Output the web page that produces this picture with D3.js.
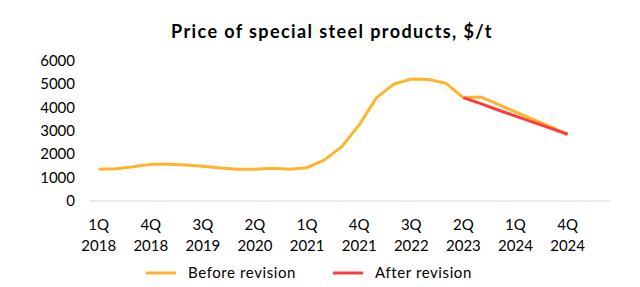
<!DOCTYPE html>
<html>
<head>
<meta charset="utf-8">
<script src="https://cdn.jsdelivr.net/npm/d3@7"></script>
<style>
  body { margin: 0; background: #fff; }
  text { font-family: "Lato", "DejaVu Sans", sans-serif; fill: #000; }
</style>
</head>
<body>
<div id="chart"></div>
<script>
// quarters 1Q2018 .. 4Q2024
const quarters = [];
for (let yr = 2018; yr <= 2024; yr++) {
  for (let q = 1; q <= 4; q++) quarters.push(q + "Q " + yr);
}
const beforeRevision = [
  1360, 1385, 1470, 1570, 1570, 1545, 1485, 1415, 1360, 1360,
  1400, 1360, 1430, 1760, 2330, 3260, 4430, 5010, 5230, 5210,
  5040, 4430, 4460, 4140, 3820, 3500, 3190, 2860
];
// after revision starts at 2Q 2023
const afterRevision = [4430, 4170, 3900, 3640, 3380, 3120, 2860];
const afterStart = 21;
const yTicks = [0, 1000, 2000, 3000, 4000, 5000, 6000];
const legendItems = [
  { name: "Before revision", color: "#FFB32B" },
  { name: "After revision", color: "#FF3C3C" }
];

const width = 640, height = 287;
const axisLeft = 90, axisRight = 611;
const step = (axisRight - axisLeft) / 30;

const svg = d3.select("#chart").append("svg")
  .attr("width", width)
  .attr("height", height);

const x = d3.scaleBand()
  .domain(quarters)
  .range([axisLeft, axisLeft + step * quarters.length]);

const y = d3.scaleLinear()
  .domain([0, 6000])
  .range([201, 61]);

const cx = function (i) { return x(quarters[i]) + x.bandwidth() / 2; };

// title
svg.append("text")
  .attr("x", 332)
  .attr("y", 38)
  .attr("text-anchor", "middle")
  .style("font-size", "18px")
  .style("font-weight", "bold")
  .style("letter-spacing", "1.4px")
  .text("Price of special steel products, $/t");

// y labels
svg.selectAll(".ytick")
  .data(yTicks)
  .enter()
  .append("text")
  .attr("class", "ytick")
  .attr("x", 75)
  .attr("y", function (d) { return y(d) + 5; })
  .attr("text-anchor", "end")
  .style("font-size", "15px")
  .text(function (d) { return d; });

// baseline
svg.append("line")
  .attr("x1", axisLeft)
  .attr("x2", axisRight)
  .attr("y1", y(0))
  .attr("y2", y(0))
  .attr("stroke", "#d9d9d9")
  .attr("stroke-width", 1);

// x labels every 3 quarters
const xLabels = svg.selectAll(".xtick")
  .data(quarters.filter(function (d, i) { return i % 3 === 0; }))
  .enter()
  .append("text")
  .attr("class", "xtick")
  .attr("text-anchor", "middle")
  .style("font-size", "15px")
  .attr("transform", function (d) {
    return "translate(" + (x(d) + x.bandwidth() / 2) + ",0)";
  });

xLabels.append("tspan")
  .attr("x", 0)
  .attr("y", 230)
  .text(function (d) { return d.split(" ")[0]; });

xLabels.append("tspan")
  .attr("x", 0)
  .attr("y", 251)
  .text(function (d) { return d.split(" ")[1]; });

const line = d3.line()
  .x(function (d) { return cx(d.i); })
  .y(function (d) { return y(d.v); });

svg.append("path")
  .datum(beforeRevision.map(function (v, i) { return { i: i, v: v }; }))
  .attr("fill", "none")
  .attr("stroke", legendItems[0].color)
  .attr("stroke-width", 3)
  .attr("stroke-linejoin", "round")
  .attr("d", line);

svg.append("path")
  .datum(afterRevision.map(function (v, i) { return { i: i + afterStart, v: v }; }))
  .attr("fill", "none")
  .attr("stroke", legendItems[1].color)
  .attr("stroke-width", 3)
  .attr("stroke-linejoin", "round")
  .attr("d", line);

// legend
const legend = svg.selectAll(".legend")
  .data(legendItems)
  .enter()
  .append("g")
  .attr("class", "legend")
  .attr("transform", function (d, i) {
    return "translate(" + (146 + i * 187) + ",273)";
  });

legend.append("line")
  .attr("x1", 0)
  .attr("x2", 30)
  .attr("stroke", function (d) { return d.color; })
  .attr("stroke-width", 3);

legend.append("text")
  .attr("x", 42)
  .attr("y", 5)
  .style("font-size", "15px")
  .style("letter-spacing", "0.6px")
  .text(function (d) { return d.name; });
</script>
</body>
</html>
